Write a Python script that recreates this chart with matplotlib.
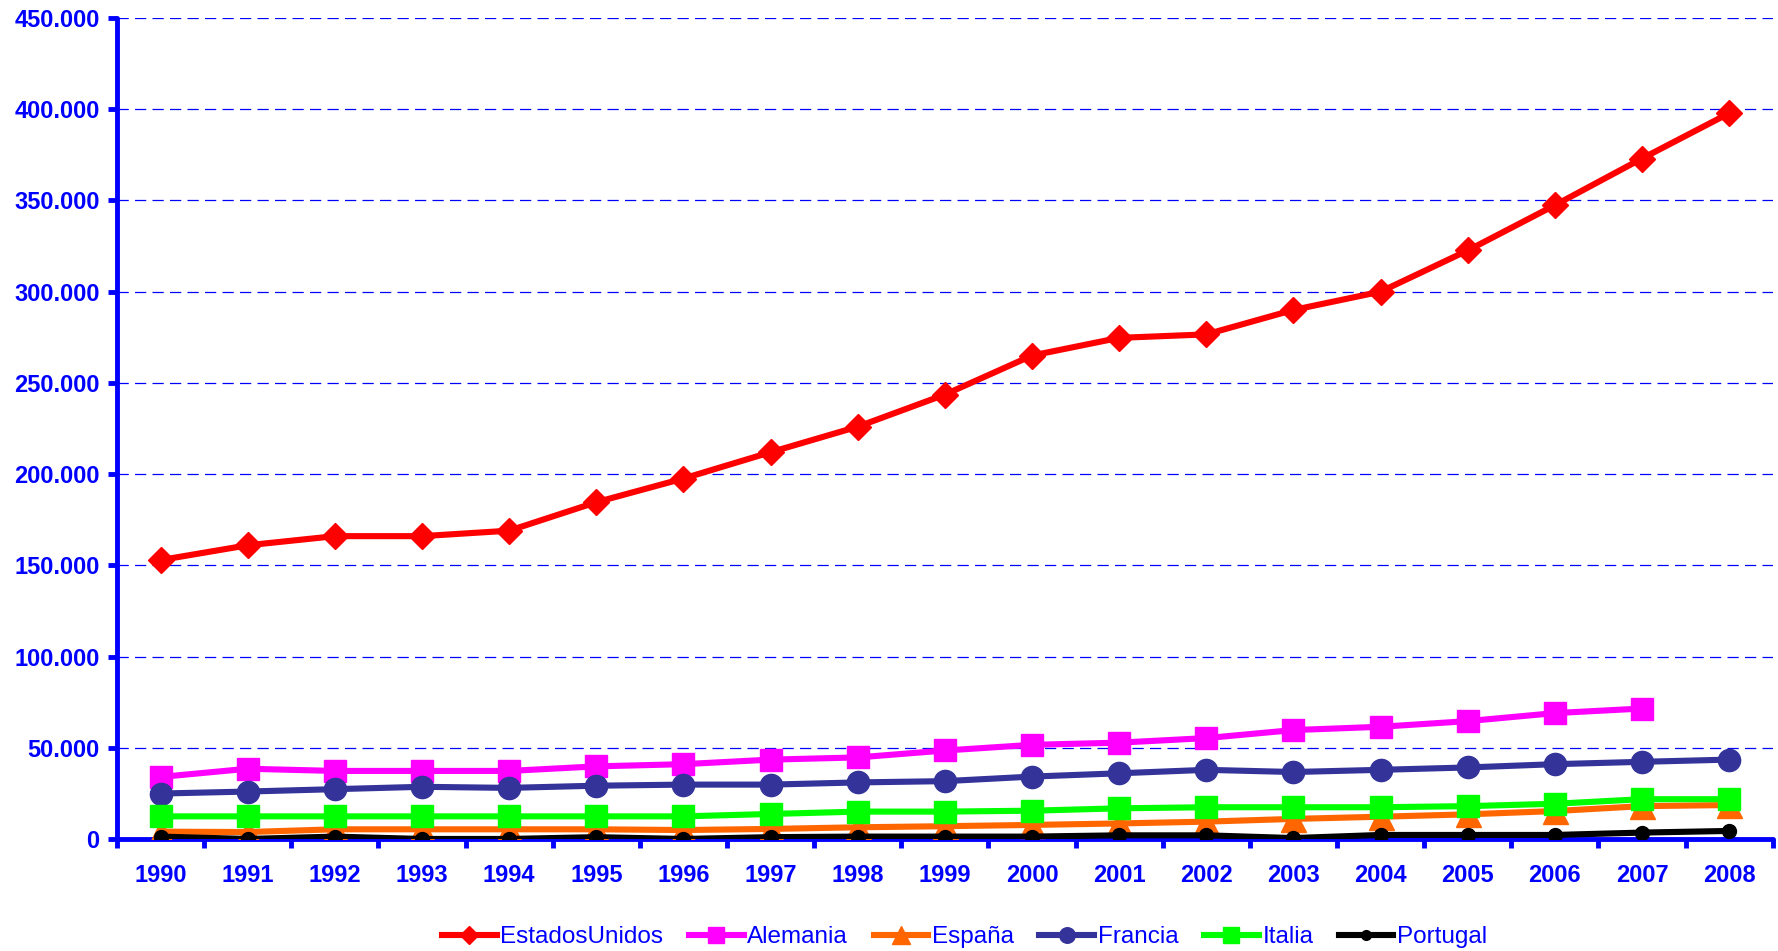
# import packages
import matplotlib.pyplot as plt
from matplotlib.ticker import FuncFormatter, MultipleLocator
import numpy as np

# años
anios = [str(a) for a in range(1990, 2009)]

# series
estados_unidos = [152900, 161000, 166000, 166000, 169000, 184600, 197600, 212000, 226000, 243600,
                  265000, 274700, 276600, 290000, 300000, 322600, 347400, 373000, 397800]
alemania = [34000, 38500, 37300, 37300, 37300, 39800, 41000, 43500, 44700, 48500,
            51600, 52800, 55300, 59700, 61500, 64600, 69000, 71500, None]
espana = [4000, 3800, 5300, 5300, 5300, 5300, 4900, 5500, 6400, 7000,
          7700, 8500, 9500, 11000, 12200, 13500, 15300, 18000, 18600]
francia = [24900, 26000, 27300, 28600, 28000, 29200, 29800, 29800, 31000, 31700,
           34200, 36000, 37900, 36700, 37900, 39200, 41000, 42300, 43500]
italia = [12400, 12400, 12400, 12400, 12400, 12400, 12400, 13700, 15000, 15000,
          15500, 16800, 17400, 17400, 17400, 18000, 19300, 21800, 21800]
portugal = [1300, 0, 1300, 0, 0, 1000, 0, 1000, 1300, 1300,
            1300, 2000, 2000, 500, 2200, 2200, 2200, 3500, 4400]

azul = '#0000FF'
plt.rcParams['font.family'] = ['Liberation Sans', 'DejaVu Sans']

fig = plt.figure(figsize=(17.78, 9.51), dpi=100)
ax = fig.add_axes([0.0658, 0.1178, 0.9312, 0.8632])

x = np.arange(len(anios))

def serie(valores):
    return np.array([np.nan if v is None else v for v in valores], dtype=float)

# lineas
ax.plot(x, serie(estados_unidos), color='#FF0000', lw=4.4, marker='D', ms=13.5,
        label='EstadosUnidos', zorder=3)
ax.plot(x, serie(alemania), color='#FF00FF', lw=4.4, marker='s', ms=16,
        label='Alemania', zorder=3)
ax.plot(x, serie(espana), color='#FF6600', lw=4.4, marker='^', ms=18,
        label='España', zorder=3)
ax.plot(x, serie(francia), color='#333399', lw=4.4, marker='o', ms=16,
        label='Francia', zorder=3)
ax.plot(x, serie(italia), color='#00FF00', lw=4.4, marker='s', ms=16,
        label='Italia', zorder=3)
ax.plot(x, serie(portugal), color='#000000', lw=4.4, marker='o', ms=10,
        label='Portugal', zorder=3)

# ejes
ax.set_xlim(-0.5, len(anios) - 0.5)
ax.set_ylim(0, 450000)
ax.yaxis.set_major_locator(MultipleLocator(50000))
ax.yaxis.set_major_formatter(FuncFormatter(lambda v, p: f"{int(v):,}".replace(',', '.')))
ax.set_xticks(x)
ax.set_xticklabels(anios)
ax.set_xticks(np.arange(-0.5, len(anios), 1), minor=True)

ax.grid(axis='y', color=azul, lw=0.9, linestyle=(0, (9, 5)), zorder=0)
ax.set_axisbelow(True)

for lado in ['top', 'right']:
    ax.spines[lado].set_visible(False)
for lado in ['left', 'bottom']:
    ax.spines[lado].set_color(azul)
    ax.spines[lado].set_linewidth(3.5)
    ax.spines[lado].set_capstyle('round')

ax.tick_params(axis='y', which='major', length=6.5, width=3.5, color=azul,
               labelcolor=azul, labelsize=17, pad=6)
ax.tick_params(axis='x', which='major', length=0, labelcolor=azul, labelsize=17, pad=18)
ax.tick_params(axis='x', which='minor', length=6.5, width=3.5, color=azul)
for lbl in ax.get_xticklabels() + ax.get_yticklabels():
    lbl.set_fontweight('bold')

# leyenda
leg = ax.legend(loc='center', bbox_to_anchor=(0.512, -0.12), ncol=6, frameon=False,
                fontsize=17.5, handlelength=2.25, handletextpad=0.15, columnspacing=1.05,
                markerscale=0.7)
for t in leg.get_texts():
    t.set_color(azul)

plt.savefig('out.png', dpi=100)
